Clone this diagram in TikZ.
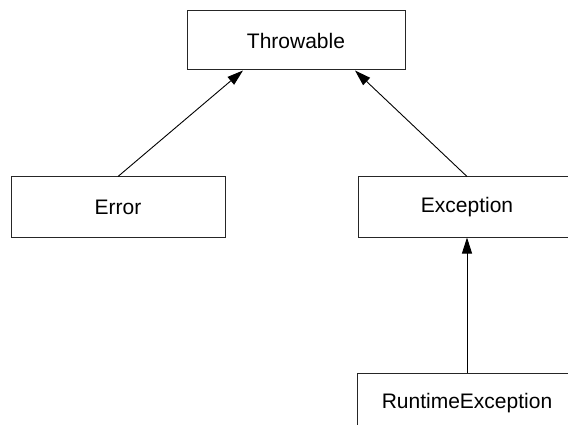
\documentclass[tikz,border=0pt]{standalone}
\usepackage{fontspec}
\setmainfont{Liberation Sans}
\usetikzlibrary{arrows.meta}
\begin{document}
\begin{tikzpicture}[x=1pt,y=-1pt,
  cls/.style={draw=black!85,line width=1pt,fill=white,minimum height=60pt,inner sep=0pt,
    font=\fontsize{21}{25}\selectfont},
  inh/.style={draw=black,line width=0.9pt,-{Triangle[length=16pt,width=10pt]}}]
\useasboundingbox (0,0) rectangle (568,425);
\clip (0,0) rectangle (568,425);
\node[cls,minimum width=218pt,minimum height=59pt] (throwable) at (296,40.5) {Throwable};
\node[cls,minimum width=214pt] (error) at (118,207) {Error};
\node[cls,minimum width=218pt] (exception) at (467,207) {Exception};
\node[cls,minimum width=220pt] (runtime) at (467,403) {RuntimeException};
\draw[inh] (error.north) -- ([xshift=-53pt]throwable.south);
\draw[inh] (exception.north) -- ([xshift=59pt]throwable.south);
\draw[inh] (runtime.north) -- (exception.south);
\end{tikzpicture}
\end{document}
